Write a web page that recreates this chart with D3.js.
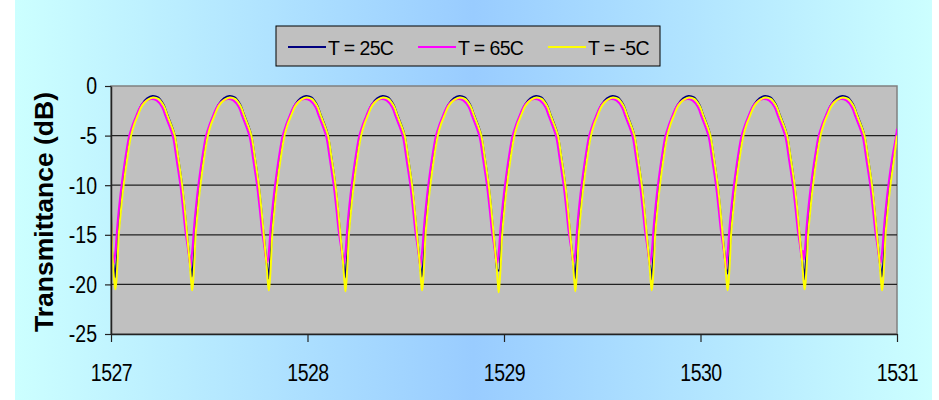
<!DOCTYPE html>
<html lang='en'>

<head>
    <meta charset='utf-8'>
    <title>Transmittance</title>
    <style>
        body {
            margin: 0;
            background-color: white;
            font-family: 'Liberation Sans', Arial, sans-serif;
        }

        svg {
            display: block;
        }
    </style>
    <script src='https://d3js.org/d3.v7.min.js' charset='utf-8'></script>
</head>

<body>
    <div id='placeholder'></div>
    <script type="text/javascript">
        const WIDTH = 939;
        const HEIGHT = 400;

        // series names / colours
        var seriesNames = ['T = 25C', 'T = 65C', 'T = -5C'];
        var seriesColors = ['#000080', '#ff00ff', '#ffff00'];

        // tick labels
        var xTicks = [1527, 1528, 1529, 1530, 1531];
        var yTicks = [0, -5, -10, -15, -20, -25];

        // wavelengths (nm) of each transmission dip
        var troughs25 = [1527.020, 1527.411, 1527.801, 1528.191, 1528.581, 1528.971, 1529.361, 1529.750, 1530.136, 1530.528, 1530.922];
        var troughs65 = [1527.013, 1527.404, 1527.794, 1528.184, 1528.574, 1528.964, 1529.354, 1529.743, 1530.129, 1530.521, 1530.915];
        var troughsM5 = [1527.022, 1527.413, 1527.803, 1528.193, 1528.583, 1528.973, 1529.363, 1529.752, 1530.138, 1530.530, 1530.924];

        // depth of each dip (dB)
        var depth25 = [-19.3, -19.2, -19.4, -19.3, -19.2, -18.6, -19.4, -19.5, -18.9, -19.5, -19.2];
        var depth65 = [-17.9, -18.3, -17.8, -17.9, -18.2, -17.9, -17.8, -18.0, -18.5, -16.6, -17.9];
        var depthM5 = [-20.5, -20.6, -20.6, -20.7, -20.6, -20.8, -20.7, -20.6, -20.6, -20.5, -20.6];

        // one fringe between two dips: position as fraction of the fringe, value in dB
        var fringePos = [0.012, 0.03, 0.045, 0.075, 0.108, 0.155, 0.205, 0.25, 0.291, 0.348, 0.42, 0.49, 0.56, 0.63, 0.68, 0.73, 0.773, 0.82, 0.87, 0.905, 0.935, 0.965, 0.988];
        var fringe25 = [-18.6, -17.0, -14.8, -12.2, -9.8, -7.1, -4.9, -3.7, -2.9, -1.9, -1.25, -1.0, -1.15, -1.85, -2.85, -3.85, -4.85, -7.1, -9.8, -12.3, -14.8, -17.0, -18.6];
        var fringe65 = [-17.5, -16.2, -14.5, -12.0, -9.8, -7.2, -5.0, -3.9, -3.1, -2.1, -1.5, -1.3, -1.45, -2.1, -3.1, -4.1, -5.1, -7.4, -10.0, -12.4, -14.6, -16.2, -17.5];
        var fringeM5 = [-19.8, -17.5, -15.0, -12.4, -10.0, -7.3, -5.0, -3.8, -3.0, -2.0, -1.4, -1.15, -1.3, -2.0, -3.0, -4.0, -5.0, -7.3, -10.0, -12.5, -15.0, -17.5, -19.8];

        // value at the two ends of the axis
        var edge25 = [-12.8, -4.7];
        var edge65 = [-13.5, -4.3];
        var edgeM5 = [-13.2, -5.0];

        var margin = { left: 111, right: 897, top: 86, bottom: 334 };

        function buildSeries(troughs, depths, fringe, edge) {
            var pts = [];
            var xMin = xTicks[0];
            var xMax = xTicks[xTicks.length - 1];
            pts.push([xMin, edge[0]]);
            // partial fringe before the first dip
            var p0 = troughs[1] - troughs[0];
            fringePos.forEach(function (f, j) {
                var x = troughs[0] - p0 + f * p0;
                if (x > xMin) pts.push([x, fringe[j]]);
            });
            for (var i = 0; i < troughs.length; i++) {
                pts.push([troughs[i], depths[i]]);
                var p = i < troughs.length - 1 ? troughs[i + 1] - troughs[i] : troughs[i] - troughs[i - 1];
                fringePos.forEach(function (f, j) {
                    var x = troughs[i] + f * p;
                    if (x < xMax) pts.push([x, fringe[j]]);
                });
            }
            pts.push([xMax, edge[1]]);
            return pts;
        }

        var series = [
            buildSeries(troughs25, depth25, fringe25, edge25),
            buildSeries(troughs65, depth65, fringe65, edge65),
            buildSeries(troughsM5, depthM5, fringeM5, edgeM5)
        ];

        var x = d3.scaleLinear().domain([1527, 1531]).range([margin.left, margin.right]);
        var y = d3.scaleLinear().domain([-25, 0]).range([margin.bottom, margin.top]);

        var svg = d3.select('#placeholder')
            .append('svg')
            .attr('width', WIDTH)
            .attr('height', HEIGHT);

        var defs = svg.append('defs');
        var grad = defs.append('linearGradient')
            .attr('id', 'bg')
            .attr('x1', '0%').attr('x2', '100%')
            .attr('y1', '0%').attr('y2', '0%');
        grad.append('stop').attr('offset', '0%').attr('stop-color', '#ccffff');
        grad.append('stop').attr('offset', '50%').attr('stop-color', '#99ccff');
        grad.append('stop').attr('offset', '100%').attr('stop-color', '#ccffff');

        defs.append('clipPath')
            .attr('id', 'clip')
            .append('rect')
            .attr('x', margin.left)
            .attr('y', margin.top)
            .attr('width', margin.right - margin.left)
            .attr('height', margin.bottom - margin.top);

        svg.append('rect')
            .attr('x', 15)
            .attr('y', 0)
            .attr('width', 917)
            .attr('height', HEIGHT)
            .attr('fill', 'url(#bg)');

        // plot area
        svg.append('rect')
            .attr('x', margin.left)
            .attr('y', margin.top)
            .attr('width', margin.right - margin.left)
            .attr('height', margin.bottom - margin.top)
            .attr('fill', '#c0c0c0')
            .attr('stroke', '#808080')
            .attr('stroke-width', 1.5);

        // grid lines
        svg.append('g')
            .selectAll('line')
            .data(yTicks.slice(1, -1))
            .enter()
            .append('line')
            .attr('x1', margin.left)
            .attr('x2', margin.right)
            .attr('y1', function (d) { return y(d); })
            .attr('y2', function (d) { return y(d); })
            .attr('stroke', '#222')
            .attr('stroke-width', 1.2);

        var line = d3.line()
            .x(function (d) { return x(d[0]); })
            .y(function (d) { return y(d[1]); })
            .curve(d3.curveCatmullRom.alpha(0.5));

        svg.append('g')
            .attr('clip-path', 'url(#clip)')
            .selectAll('path')
            .data(series)
            .enter()
            .append('path')
            .attr('d', line)
            .attr('fill', 'none')
            .attr('stroke', function (d, i) { return seriesColors[i]; })
            .attr('stroke-width', 2)
            .attr('stroke-linejoin', 'round');

        // axes (plain hyphen for negatives, like the original)
        var fmt = function (d) { return String(d); };

        var yAxis = svg.append('g')
            .attr('transform', 'translate(' + margin.left + ',0)')
            .call(d3.axisLeft(y).tickValues(yTicks).tickFormat(fmt).tickSize(6).tickSizeOuter(0));
        yAxis.select('.domain').attr('stroke', '#222').attr('stroke-width', 1.5);
        yAxis.selectAll('.tick line').attr('stroke', '#222').attr('stroke-width', 1.2);
        yAxis.selectAll('.tick text')
            .attr('x', -14)
            .attr('dy', '0.33em')
            .attr('font-family', 'Liberation Sans, Arial, sans-serif')
            .attr('font-size', '19.5px')
            .attr('fill', '#000')
            .attr('transform', 'scale(1,1.22)');

        var xAxis = svg.append('g')
            .attr('transform', 'translate(0,' + margin.bottom + ')')
            .call(d3.axisBottom(x).tickValues(xTicks).tickFormat(fmt).tickSize(8).tickSizeOuter(0));
        xAxis.select('.domain').attr('stroke', '#222').attr('stroke-width', 1.5);
        xAxis.selectAll('.tick line').attr('stroke', '#222').attr('stroke-width', 1.2);
        xAxis.selectAll('.tick text')
            .attr('y', 38)
            .attr('dy', 0)
            .attr('font-family', 'Liberation Sans, Arial, sans-serif')
            .attr('font-size', '19.5px')
            .attr('letter-spacing', '-0.5px')
            .attr('fill', '#000')
            .attr('transform', 'scale(1,1.25)');

        // y title
        svg.append('text')
            .text('Transmittance (dB)')
            .attr('transform', 'translate(53,212) rotate(-90)')
            .attr('text-anchor', 'middle')
            .attr('font-family', 'Liberation Sans, Arial, sans-serif')
            .attr('font-weight', 'bold')
            .attr('font-size', '26.5px')
            .attr('fill', '#000');

        // legend
        var legend = svg.append('g');
        legend.append('rect')
            .attr('x', 276)
            .attr('y', 26)
            .attr('width', 384)
            .attr('height', 40)
            .attr('fill', '#c0c0c0')
            .attr('stroke', '#000')
            .attr('stroke-width', 1);

        var legendX = [288, 418, 548];
        var items = legend.selectAll('g.item')
            .data(seriesNames)
            .enter()
            .append('g')
            .attr('class', 'item')
            .attr('transform', function (d, i) { return 'translate(' + legendX[i] + ',47)'; });
        items.append('line')
            .attr('x1', 0)
            .attr('x2', 38)
            .attr('y1', 0)
            .attr('y2', 0)
            .attr('stroke', function (d, i) { return seriesColors[i]; })
            .attr('stroke-width', 2);
        items.append('text')
            .text(function (d) { return d; })
            .attr('x', 40)
            .attr('y', 8)
            .attr('font-family', 'Liberation Sans, Arial, sans-serif')
            .attr('font-size', '19.5px')
            .attr('letter-spacing', '-0.6px')
            .attr('fill', '#000');
    </script>
</body>

</html>
